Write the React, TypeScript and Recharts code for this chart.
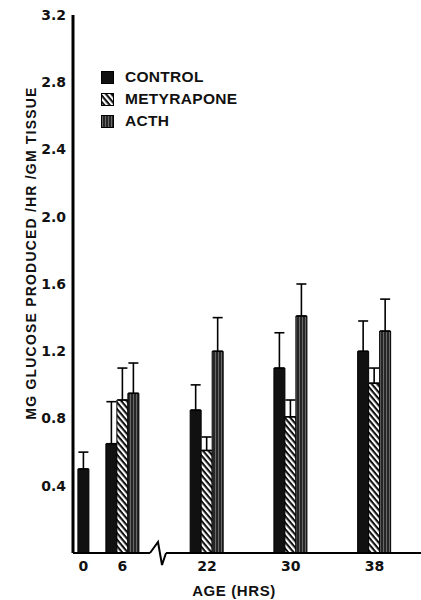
import { BarChart, Bar, XAxis, YAxis, ErrorBar, Legend, Label } from "recharts";

const FONT = '"Liberation Sans", Arial, sans-serif';
const TICK_FONT = '"DejaVu Sans", sans-serif';

// glucose output, mg / hr / gm tissue
const ages = [0, 6, 22, 30, 38];
const controlMean = [0.5, 0.65, 0.85, 1.1, 1.2];
const controlSE = [0.1, 0.25, 0.15, 0.21, 0.18];
const metMean = [null, 0.91, 0.61, 0.81, 1.01];
const metSE = [null, 0.19, 0.08, 0.1, 0.09];
const acthMean = [null, 0.95, 1.2, 1.41, 1.32];
const acthSE = [null, 0.18, 0.2, 0.19, 0.19];

const yTicks = [0.4, 0.8, 1.2, 1.6, 2.0, 2.4, 2.8, 3.2];
const legendNames = ["CONTROL", "METYRAPONE", "ACTH"];
const BREAK_AGE = 10; // axis is broken between 6 and 22 hrs

type Row = {
  age: number;
  solo?: number;
  soloErr?: number[];
  control?: number;
  controlErr?: number[];
  met?: number;
  metErr?: number[];
  acth?: number;
  acthErr?: number[];
};

const rows: Row[] = ages.map((age, i) => {
  if (metMean[i] == null && acthMean[i] == null) {
    // only the control was measured: centre the single bar on its tick
    return { age, solo: controlMean[i], soloErr: [0, controlSE[i]] };
  }
  return {
    age,
    control: controlMean[i],
    controlErr: [0, controlSE[i]],
    met: metMean[i] as number,
    metErr: [0, metSE[i] as number],
    acth: acthMean[i] as number,
    acthErr: [0, acthSE[i] as number],
  };
});
const leftRows = rows.filter((r) => r.age < BREAK_AGE);
const rightRows = rows.filter((r) => r.age > BREAK_AGE);

const tickStyle = { fill: "#111", fontSize: 14, fontWeight: 700, fontFamily: TICK_FONT };

function Patterns({ id }: { id: string }) {
  return (
    <defs>
      <pattern
        id={`hatch-${id}`}
        width={4.2}
        height={4.2}
        patternUnits="userSpaceOnUse"
        patternTransform="rotate(-40)"
      >
        <rect width={4.2} height={4.2} fill="#111" />
        <rect width={2.1} height={4.2} fill="#fff" />
      </pattern>
      <pattern id={`acth-${id}`} width={3} height={6} patternUnits="userSpaceOnUse">
        <rect width={3} height={6} fill="#262626" />
        <rect x={1} width={0.8} height={6} fill="#7a7a7a" />
      </pattern>
    </defs>
  );
}

function LegendBox() {
  return (
    <div style={{ fontFamily: FONT, fontWeight: 700, fontSize: 15.5, color: "#111" }}>
      {legendNames.map((name, i) => {
        const fill = i === 0 ? "#111" : i === 1 ? `url(#hatch-lg${i})` : `url(#acth-lg${i})`;
        return (
          <div key={name} style={{ display: "flex", alignItems: "center", height: 22 }}>
            <svg width={13} height={13} style={{ marginRight: 11 }}>
              <Patterns id={`lg${i}`} />
              <rect x={0.5} y={0.5} width={12} height={12} fill={fill} stroke="#000" />
            </svg>
            <span style={{ letterSpacing: 0.3 }}>{name}</span>
          </div>
        );
      })}
    </div>
  );
}

const errProps = { width: 5, stroke: "#000", strokeWidth: 1.6 };

export default function App() {
  return (
    <div style={{ position: "absolute", left: 0, top: 0, width: 421, height: 600, background: "#fff" }}>
      <div style={{ position: "absolute", left: 0, top: 0 }}>
        <BarChart
          width={150}
          height={600}
          data={leftRows}
          margin={{ top: 15, right: 0, bottom: 0, left: 0 }}
          barGap={0}
          barSize={11}
        >
          <Patterns id="l" />
          <XAxis
            xAxisId="main"
            dataKey="age"
            type="number"
            domain={[-1.6, 10.25]}
            ticks={leftRows.map((r) => r.age)}
            interval={0}
            allowDataOverflow
            height={47}
            axisLine={{ stroke: "#000", strokeWidth: 2 }}
            tickLine={false}
            tick={tickStyle}
          />
          <XAxis xAxisId="solo" dataKey="age" type="number" domain={[-1.6, 10.25]} allowDataOverflow hide />
          <YAxis
            domain={[0, 3.2]}
            ticks={yTicks}
            interval={0}
            width={73}
            axisLine={{ stroke: "#000", strokeWidth: 3 }}
            tickLine={false}
            tickSize={6}
            tickMargin={1}
            tick={tickStyle}
            tickFormatter={(v: number) => v.toFixed(1)}
            label={
              <Label
                content={() => (
                  <text
                    x={31}
                    y={253}
                    transform="rotate(-90 31 253)"
                    textAnchor="middle"
                    dominantBaseline="central"
                    fill="#111"
                    fontSize={14}
                    fontWeight={700}
                    fontFamily={FONT}
                    letterSpacing={1.2}
                  >
                    MG GLUCOSE PRODUCED /HR /GM TISSUE
                  </text>
                )}
              />
            }
          />
          <Legend
            layout="vertical"
            align="center"
            verticalAlign="middle"
            content={() => <LegendBox />}
            wrapperStyle={{ left: 101, top: 66, width: 220 }}
          />
          <Bar xAxisId="solo" dataKey="solo" fill="#111" stroke="#000" isAnimationActive={false}>
            <ErrorBar dataKey="soloErr" {...errProps} />
          </Bar>
          <Bar xAxisId="main" dataKey="control" fill="#111" stroke="#000" isAnimationActive={false}>
            <ErrorBar dataKey="controlErr" {...errProps} />
          </Bar>
          <Bar xAxisId="main" dataKey="met" fill="url(#hatch-l)" stroke="#000" isAnimationActive={false}>
            <ErrorBar dataKey="metErr" {...errProps} />
          </Bar>
          <Bar xAxisId="main" dataKey="acth" fill="url(#acth-l)" stroke="#000" isAnimationActive={false}>
            <ErrorBar dataKey="acthErr" {...errProps} />
          </Bar>
        </BarChart>
      </div>

      <div style={{ position: "absolute", left: 166, top: 0 }}>
        <BarChart
          width={255}
          height={600}
          data={rightRows}
          margin={{ top: 15, right: 0, bottom: 0, left: 0 }}
          barGap={0}
          barSize={11}
        >
          <Patterns id="r" />
          <XAxis
            dataKey="age"
            type="number"
            domain={[18.08, 42.44]}
            ticks={rightRows.map((r) => r.age)}
            interval={0}
            allowDataOverflow
            height={47}
            axisLine={{ stroke: "#000", strokeWidth: 2 }}
            tickLine={false}
            tick={tickStyle}
            label={
              <Label
                content={() => (
                  <text
                    x={68}
                    y={590}
                    textAnchor="middle"
                    dominantBaseline="central"
                    fill="#111"
                    fontSize={15}
                    fontWeight={700}
                    fontFamily={FONT}
                    letterSpacing={0.6}
                  >
                    AGE (HRS)
                  </text>
                )}
              />
            }
          />
          <YAxis hide domain={[0, 3.2]} />
          <Bar dataKey="control" fill="#111" stroke="#000" isAnimationActive={false}>
            <ErrorBar dataKey="controlErr" {...errProps} />
          </Bar>
          <Bar dataKey="met" fill="url(#hatch-r)" stroke="#000" isAnimationActive={false}>
            <ErrorBar dataKey="metErr" {...errProps} />
          </Bar>
          <Bar dataKey="acth" fill="url(#acth-r)" stroke="#000" isAnimationActive={false}>
            <ErrorBar dataKey="acthErr" {...errProps} />
          </Bar>
        </BarChart>
      </div>

      {/* break mark on the age axis */}
      <svg
        width={421}
        height={600}
        style={{ position: "absolute", left: 0, top: 0, pointerEvents: "none" }}
      >
        <polyline
          points="150,553 158,542 162,565 166,553"
          fill="none"
          stroke="#000"
          strokeWidth={2}
          strokeLinejoin="miter"
        />
      </svg>
    </div>
  );
}
